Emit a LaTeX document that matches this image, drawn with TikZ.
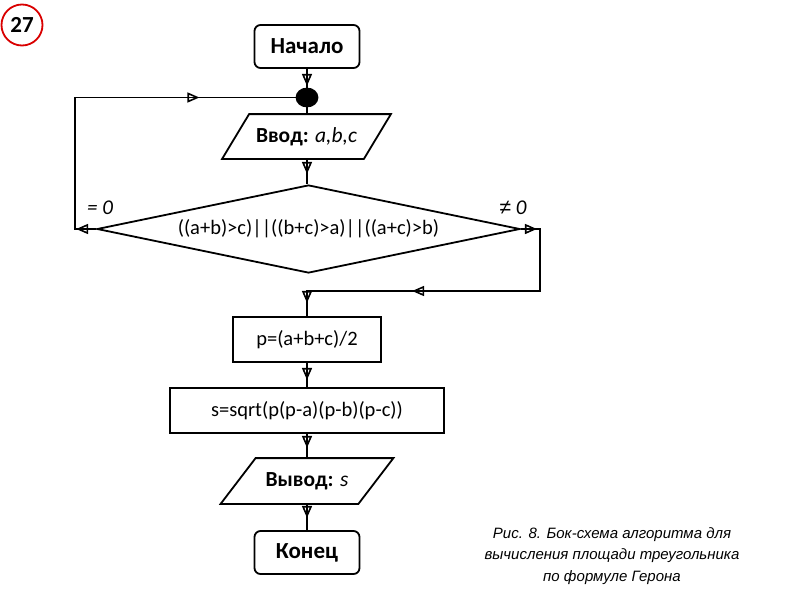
\documentclass[tikz,border=0pt]{standalone}
\usepackage{fontspec}
\setmainfont{Carlito}
\newfontfamily\capfont{Liberation Sans}
\usetikzlibrary{shapes.geometric,arrows.meta,decorations.markings}
\tikzset{
  mytip/.tip={Triangle[open,length=12pt,width=10pt,line width=1.6pt]},
  arr/.style={postaction={decorate,decoration={markings,mark=at position #1 with {\arrow{mytip}}}}},
}
\begin{document}
\begin{tikzpicture}[x=1pt,y=-1pt,line width=1.8pt,
  every node/.style={font=\fontsize{20.5}{24}\selectfont},
  term/.style={draw,rounded corners=6pt,minimum width=105pt,minimum height=43pt,font=\bfseries\fontsize{23}{26}\selectfont},
  proc/.style={draw,minimum height=45pt,inner sep=0pt},
  io/.style={minimum height=43pt,inner sep=0pt,font=\fontsize{21.5}{24}\selectfont},
  lbl/.style={font=\itshape\fontsize{21}{24}\selectfont},
  captxt/.style={font=\capfont\itshape\fontsize{15}{21.5}\selectfont,align=center},
]
\useasboundingbox (0,0) rectangle (800,600);
\node[draw=red!85!black,circle,minimum size=41pt,inner sep=0pt,font=\bfseries\fontsize{23}{24}\selectfont] (num) at (22,25) {27};
\node[term] (start) at (307,46.5) {Начало};
\node[ellipse,fill,draw,minimum width=21pt,minimum height=18pt,inner sep=0pt] (dot) at (307,97.5) {};
\node[io,minimum width=140pt] (in) at (306.5,136.5) {\textbf{Ввод:} \textit{a,b,c}};
\draw ([xshift=-13.5pt]in.south west) -- ([xshift=-13.5pt]in.south east) -- ([xshift=13.5pt]in.north east) -- ([xshift=13.5pt]in.north west) -- cycle;
\node[diamond,draw,aspect=4.8,minimum width=423pt,minimum height=88pt,inner sep=0pt] (cond) at (308.5,229) {((a+b)>c)||((b+c)>a)||((a+c)>b)};
\node[proc,minimum width=148pt] (p) at (307,339.5) {p=(a+b+c)/2};
\node[proc,minimum width=274pt] (s) at (307,410.5) {s=sqrt(p(p-a)(p-b)(p-c))};
\node[io,minimum width=136pt,minimum height=44pt] (out) at (307,481) {\textbf{Вывод:} \textit{s}};
\draw ([xshift=-17.5pt]out.south west) -- ([xshift=-17.5pt]out.south east) -- ([xshift=17.5pt]out.north east) -- ([xshift=17.5pt]out.north west) -- cycle;
\node[term] (end) at (307,552.5) {Конец};
\node[lbl] (eq) at (100,208) {= 0};
\node[lbl] (ne) at (513,208) {{\capfont ≠} 0};
\node[captxt] (caption) at (612,556) {Рис. 8. Бок-схема алгоритма для\\вычисления площади треугольника\\по формуле Герона};
\coordinate (L1) at (75,229);
\coordinate (L2) at (75,97.5);
\coordinate (R1) at (540,229);
\coordinate (R2) at (540,291);
\coordinate (M) at (307,291);
\draw[arr=17pt] (start.south) -- (dot.north);
\draw (dot.south) -- (dot |- in.north);
\draw[arr=15pt] (in.south -| dot) -- (cond.north -| dot);
\draw[arr=20pt,arr=277pt] (cond.west) -- (L1) -- (L2) -- (dot.west);
\draw[arr=16pt,arr=209pt,arr=326pt] (cond.east) -- (R1) -- (R2) -- (M) -- (p.north);
\draw[arr=17pt] (p.south) -- (s.north);
\draw[arr=14pt] (s.south) -- (out.north);
\draw[arr=14pt] (out.south) -- (end.north);
\end{tikzpicture}
\end{document}
